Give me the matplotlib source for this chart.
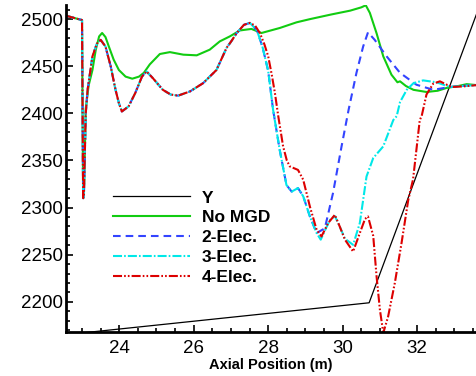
import numpy as np
import matplotlib
matplotlib.use("Agg")
import matplotlib.pyplot as plt
from matplotlib.ticker import MultipleLocator

plt.rcParams['font.family'] = ['Liberation Sans', 'DejaVu Sans']
plt.rcParams['lines.scale_dashes'] = False

# channel geometry line
y_x = [23.0, 30.71, 33.6]
y_y = [2167, 2199, 2506]

# shared start of all cases
start_x = [22.58, 23.0, 23.03, 23.05]
start_y = [2503.5, 2499, 2310, 2312]

nomgd_x = [23.1, 23.18, 23.28, 23.37, 23.46, 23.54, 23.63, 23.72, 23.85, 23.99,
           24.17, 24.35, 24.53, 24.66, 24.82, 25.09, 25.36, 25.72, 26.08, 26.43,
           26.7, 26.97, 27.24, 27.55, 27.82, 28.31, 28.76, 29.12, 29.7, 30.2,
           30.5, 30.62, 30.73, 30.91, 31.09, 31.31, 31.47, 31.54, 31.7, 31.9,
           32.25, 32.55, 32.79, 33.1, 33.33, 33.6]
nomgd_y = [2405, 2430, 2446, 2467.6, 2481.7, 2485.3, 2481, 2471, 2457, 2446,
           2439, 2436.8, 2439, 2443, 2452, 2463, 2465, 2462.3, 2461.6, 2467.6,
           2476.4, 2481.7, 2488, 2489.6, 2485.3, 2490.6, 2496.6, 2500, 2505, 2509,
           2512.5, 2514.7, 2506.6, 2485, 2460.5, 2441, 2433, 2434, 2429, 2425,
           2422.7, 2424, 2427, 2429, 2431, 2430]

# oscillation shared by the electrode cases up to the first peak
osc_x = [23.1, 23.15, 23.28, 23.4, 23.5, 23.63, 23.77, 23.9, 23.99, 24.07, 24.25,
         24.43, 24.61, 24.73, 24.9, 25.17, 25.38, 25.58, 25.9, 26.25, 26.61,
         26.88, 27.0, 27.15, 27.35, 27.51]
osc_y = [2400, 2425, 2460.5, 2474, 2478, 2471, 2450, 2425, 2411, 2402, 2407.4,
         2421.6, 2439, 2444.6, 2437.5, 2425, 2420, 2418.8, 2423.3, 2432, 2446,
         2469.4, 2476, 2485, 2494, 2496]

# 3-Elec after the peak
e3_x = [27.7, 27.85, 28.0, 28.13, 28.31, 28.49, 28.63, 28.8, 28.94, 29.12, 29.3,
        29.41, 29.55, 29.66, 29.79, 29.92, 30.06, 30.28, 30.46, 30.64, 30.82,
        31.09, 31.36, 31.45, 31.54, 31.72, 31.9, 32.16, 32.52, 32.88, 33.33, 33.6]
e3_y = [2488, 2470, 2445, 2404, 2361, 2324, 2317, 2320.7, 2312, 2290.6, 2273,
        2266, 2278, 2287, 2291, 2280, 2267, 2260.5, 2283.6, 2333, 2352.6,
        2365, 2393, 2397, 2412, 2425, 2432, 2435, 2433, 2428, 2429.4, 2430]

# 2-Elec departs from 3-Elec after the minimum near 29.4 m
e2_x = [29.52, 29.74, 29.97, 30.16, 30.37, 30.55, 30.68, 30.86, 31.18, 31.54,
        31.98, 32.43, 32.88, 33.5, 33.6]
e2_y = [2278, 2315.4, 2365, 2404, 2443, 2471, 2486, 2478, 2460.5, 2443,
        2430.4, 2425, 2428, 2430, 2430]

# 4-Elec after the peak
e4_x = [27.65, 27.78, 27.9, 28.0, 28.1, 28.18, 28.27, 28.4, 28.5, 28.58, 28.8,
        28.94, 29.12, 29.3, 29.43, 29.61, 29.79, 29.92, 30.06, 30.28, 30.46,
        30.6, 30.68, 30.82, 30.91, 31.0, 31.09, 31.22, 31.4, 31.58, 31.76,
        31.89, 32.07, 32.12, 32.25, 32.43, 32.61, 32.92, 33.24, 33.6]
e4_y = [2493, 2485, 2473, 2460.5, 2440, 2421.6, 2397, 2365, 2350, 2343.7, 2340,
        2329.6, 2301, 2276.5, 2269.4, 2283.6, 2292.4, 2280, 2266, 2253.4, 2273,
        2288, 2290.6, 2270, 2227, 2191.5, 2167, 2184.4, 2220, 2262.3, 2308,
        2330, 2393, 2397, 2420, 2431.5, 2434, 2428, 2428.6, 2430]

fig = plt.figure(figsize=(4.77, 3.76), dpi=100)
ax = fig.add_axes([66 / 477, 1 - 332 / 376, 410 / 477, 327 / 376])

ax.plot(y_x, y_y, color='black', lw=0.9, label='Y')
ax.plot(start_x + nomgd_x, start_y + nomgd_y, color='#11cc11', lw=1.5, label='No MGD')
ax.plot(start_x + osc_x + e3_x[:11] + e2_x, start_y + osc_y + e3_y[:11] + e2_y,
        color='#3344ff', lw=1.5, dashes=(5.5, 3.6), label='2-Elec.')
ax.plot(start_x + osc_x + e3_x, start_y + osc_y + e3_y, color='#00e8e8', lw=1.5,
        dashes=(6.5, 1.5, 1.2, 1.5), label='3-Elec.')
ax.plot(start_x + osc_x + e4_x, start_y + osc_y + e4_y, color='#dd0000', lw=1.5,
        dashes=(6.5, 1.5, 1.2, 1.5, 1.2, 1.5), label='4-Elec.')

ax.set_xlim(22.57, 33.58)
ax.set_ylim(2168, 2515)
ax.xaxis.set_major_locator(MultipleLocator(2))
ax.xaxis.set_minor_locator(MultipleLocator(0.5))
ax.yaxis.set_major_locator(MultipleLocator(50))
ax.yaxis.set_minor_locator(MultipleLocator(10))
ax.tick_params(which='both', direction='in', width=1.2)
ax.tick_params(which='major', length=5, labelsize=13.5)
ax.tick_params(which='minor', length=3)
ax.tick_params(axis='x', which='major', pad=6)
ax.tick_params(axis='y', which='major', pad=2.5)
for s in ['top', 'right']:
    ax.spines[s].set_visible(False)
for s in ['left', 'bottom']:
    ax.spines[s].set_linewidth(2)

ax.set_xlabel('Axial Position (m)', fontsize=10.5, fontweight='bold', labelpad=0.5)

ax.legend(loc='upper left', bbox_to_anchor=(0.1154, 0.433), frameon=False,
          borderpad=0, borderaxespad=0, handlelength=4.4, handletextpad=0.7,
          labelspacing=0.27, prop={'weight': 'bold', 'size': 12.5})

fig.savefig('out.png', dpi=100)
